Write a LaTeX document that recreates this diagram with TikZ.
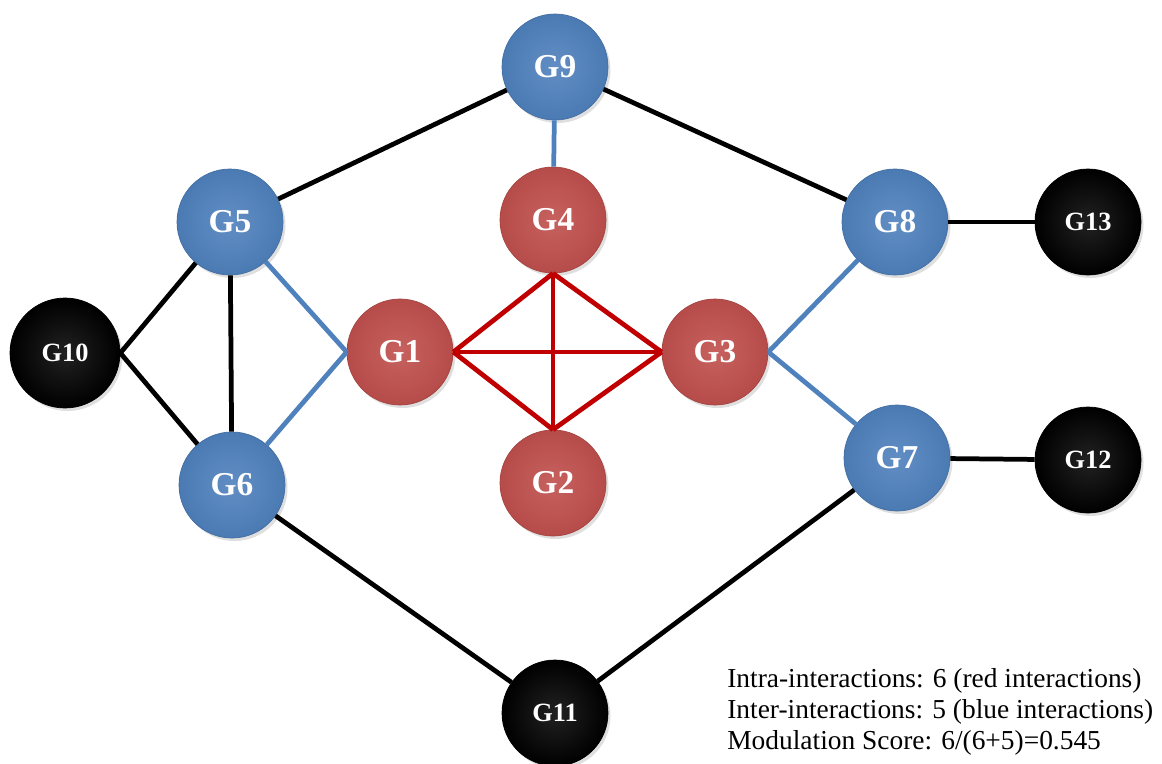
\documentclass[tikz,border=0pt]{standalone}
\usepackage{fontspec}
\setmainfont{Liberation Serif}
\usepackage{tikz}
\usetikzlibrary{shadows}
\definecolor{gblue}{RGB}{79,129,189}
\definecolor{gred}{RGB}{192,80,77}
\definecolor{gdark}{RGB}{10,10,10}
\definecolor{lred}{RGB}{192,0,0}

\begin{document}
\begin{tikzpicture}[
    gene/.style={circle, minimum size=2.12cm, inner sep=0pt, text=white, font=\fontsize{19}{19}\selectfont\bfseries, drop shadow={opacity=0.25, shadow xshift=0.05cm, shadow yshift=-0.06cm}},
    bluegene/.style={gene, inner color=gblue!90!white, outer color=gblue!95!black, draw=gblue!85!black, line width=0.4pt},
    redgene/.style={gene, inner color=gred!90!white, outer color=gred!95!black, draw=gred!85!black, line width=0.4pt},
    blackgene/.style={gene, font=\fontsize{15}{15}\selectfont\bfseries, inner color=gdark!80!gray, outer color=black, draw=black},
    blackedge/.style={line width=2.7pt, black},
    blueedge/.style={line width=2.7pt, gblue},
    rededge/.style={line width=2.7pt, lred},
    legend/.style={anchor=north west, align=left, inner sep=0pt, font=\fontsize{15.6}{17.6}\selectfont}
]
\useasboundingbox (0,0) rectangle (23.24,-15.26);

% node positions
\coordinate (c9) at (11.1,-1.34);
\coordinate (c5) at (4.6,-4.44);
\coordinate (c4) at (11.06,-4.4);
\coordinate (c8) at (17.9,-4.44);
\coordinate (c13) at (21.76,-4.44);
\coordinate (c10) at (1.3,-7.06);
\coordinate (c1) at (8.0,-7.04);
\coordinate (c3) at (14.3,-7.04);
\coordinate (c6) at (4.64,-9.7);
\coordinate (c2) at (11.06,-9.66);
\coordinate (c7) at (17.94,-9.16);
\coordinate (c12) at (21.76,-9.2);
\coordinate (c11) at (11.1,-14.26);

\node[bluegene] (G9) at (c9) {G9};
\node[bluegene] (G5) at (c5) {G5};
\node[redgene] (G4) at (c4) {G4};
\node[bluegene] (G8) at (c8) {G8};
\node[blackgene] (G13) at (c13) {G13};
\node[blackgene, minimum size=2.2cm] (G10) at (c10) {G10};
\node[redgene] (G1) at (c1) {G1};
\node[redgene] (G3) at (c3) {G3};
\node[bluegene] (G6) at (c6) {G6};
\node[redgene] (G2) at (c2) {G2};
\node[bluegene] (G7) at (c7) {G7};
\node[blackgene] (G12) at (c12) {G12};
\node[blackgene] (G11) at (c11) {G11};

% black interactions
\draw[blackedge] (G9) -- (G5);
\draw[blackedge] (G9) -- (G8);
\draw[blackedge] (G10.east) -- (G5);
\draw[blackedge] (G10.east) -- (G6);
\draw[blackedge] (G5) -- (G6);
\draw[blackedge] (G6) -- (G11);
\draw[blackedge] (G11) -- (G7);
\draw[blackedge] (G8) -- (G13);
\draw[blackedge] (G7) -- (G12);

% blue interactions
\draw[blueedge] (G9) -- (G4);
\draw[blueedge] (G5) -- (G1.west);
\draw[blueedge] (G6) -- (G1.west);
\draw[blueedge] (G3.east) -- (G8);
\draw[blueedge] (G3.east) -- (G7);

% red interactions
\draw[rededge] (G1.east) -- (G4.south);
\draw[rededge] (G1.east) -- (G3.west);
\draw[rededge] (G1.east) -- (G2.north);
\draw[rededge] (G4.south) -- (G3.west);
\draw[rededge] (G4.south) -- (G2.north);
\draw[rededge] (G2.north) -- (G3.west);

\node[legend] (score) at (14.54,-13.36) {Intra-interactions: 6 (red interactions)\\Inter-interactions: 5 (blue interactions)\\Modulation Score: 6/(6+5)=0.545};
\end{tikzpicture}
\end{document}
